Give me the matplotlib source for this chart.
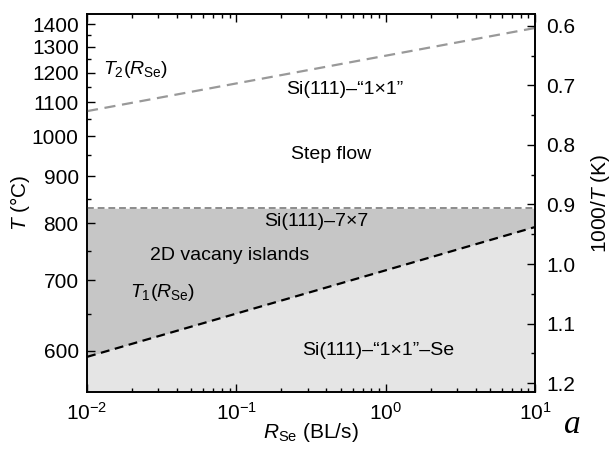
import matplotlib
matplotlib.use("Agg")
import matplotlib.pyplot as plt
import numpy as np
from matplotlib.ticker import FixedLocator, FixedFormatter, LogLocator, NullFormatter

plt.rcParams["font.family"] = ["Liberation Sans", "DejaVu Sans"]
plt.rcParams["mathtext.fontset"] = "custom"
plt.rcParams["mathtext.rm"] = "Liberation Sans"
plt.rcParams["mathtext.it"] = "Liberation Sans:italic"
plt.rcParams["mathtext.default"] = "regular"

# ---- data -----------------------------------------------------------------
rate = [1e-2, 1e1]                 # R_Se, BL/s (x-range of the boundaries)
t1_c = [592.0, 793.0]              # T1(R_Se) boundary, °C
t2_c = [1072.0, 1383.0]            # T2(R_Se) boundary, °C
t_7x7_c = 830.0                    # 7x7 <-> "1x1" transition, °C
t_lim_c = (1450.0, 550.0)          # plotted temperature range, °C

t_major_c = [600, 700, 800, 900, 1000, 1100, 1200, 1300, 1400]
t_minor_c = [650, 750, 850, 950, 1050, 1150, 1250, 1350]
inv_major = [0.6, 0.7, 0.8, 0.9, 1.0, 1.1, 1.2]
inv_minor = [0.65, 0.75, 0.85, 0.95, 1.05, 1.15]


def inv(t_c):
    """°C -> 1000/T(K)"""
    return 1000.0 / (np.asarray(t_c, dtype=float) + 273.15)


fig = plt.figure(figsize=(6.11, 4.53), dpi=100)
ax = fig.add_axes([87 / 611, 1 - 392 / 453, 448 / 611, 378 / 453])

x = np.array(rate)
y1 = inv(t1_c)
y2 = inv(t2_c)
y7 = inv([t_7x7_c, t_7x7_c])
ytop, ybot = inv(t_lim_c)

ax.fill_between(x, y7, y1, color="#c6c6c6", lw=0, zorder=1)
ax.fill_between(x, y1, ybot, color="#e5e5e5", lw=0, zorder=1)
ax.plot(x, y1, color="black", ls=(0, (4, 2.5)), lw=1.6, zorder=3)
ax.plot(x, y7, color="#8c8c8c", ls=(0, (3.5, 2)), lw=1.4, zorder=3)
ax.plot(x, y2, color="#999999", ls=(0, (5, 3)), lw=1.6, zorder=3)

ax.set_xscale("log")
ax.set_xlim(rate[0], rate[1])
ax.set_ylim(ybot, ytop)   # inverted: high T on top

ax.xaxis.set_major_locator(LogLocator(base=10, numticks=10))
ax.xaxis.set_minor_locator(LogLocator(base=10, subs=np.arange(2, 10), numticks=20))
ax.xaxis.set_minor_formatter(NullFormatter())

ax.yaxis.set_major_locator(FixedLocator(inv(t_major_c)))
ax.yaxis.set_major_formatter(FixedFormatter([str(t) for t in t_major_c]))
ax.yaxis.set_minor_locator(FixedLocator(inv(t_minor_c)))

ax.tick_params(which="both", direction="in", top=True, labelsize=15, width=1.0)
ax.tick_params(axis="y", which="both", right=False)
ax.tick_params(which="major", length=6)
ax.tick_params(which="minor", length=3)
ax.tick_params(axis="x", pad=7)
ax.tick_params(axis="y", pad=6)

ax2 = ax.twinx()
ax2.set_ylim(ybot, ytop)
ax2.yaxis.set_major_locator(FixedLocator(inv_major))
ax2.yaxis.set_major_formatter(FixedFormatter([f"{v:.1f}" for v in inv_major]))
ax2.yaxis.set_minor_locator(FixedLocator(inv_minor))
ax2.tick_params(which="both", direction="in", labelsize=15, width=1.0, pad=8)
ax2.tick_params(which="major", length=6)
ax2.tick_params(which="minor", length=3)

for a in (ax, ax2):
    for s in a.spines.values():
        s.set_linewidth(1.2)

ax.set_xlabel(r"$\mathit{R}_{\rm Se}$ (BL/s)", fontsize=15, labelpad=-2)
ax.set_ylabel(r"$\mathit{T}$ (°C)", fontsize=15, labelpad=0)
ax2.set_ylabel(r"1000/$\mathit{T}$ (K)", fontsize=15, labelpad=10)

txt = dict(transform=ax.transAxes, fontsize=14, va="center", zorder=4)
ax.text(0.036, 0.852, r"$\mathit{T}_2(\mathit{R}_{\rm Se})$", ha="left", **txt)
ax.text(0.576, 0.799, "Si(111)–“1×1”", ha="center", **txt)
ax.text(0.545, 0.627, "Step flow", ha="center", **txt)
ax.text(0.511, 0.450, "Si(111)–7×7", ha="center", **txt)
ax.text(0.319, 0.362, "2D vacany islands", ha="center", **txt)
ax.text(0.096, 0.262, r"$\mathit{T}_1(\mathit{R}_{\rm Se})$", ha="left", **txt)
ax.text(0.650, 0.111, "Si(111)–“1×1”–Se", ha="center", **txt)

fig.text(572 / 611, 1 - 425 / 453, "a", family="Liberation Serif", style="italic",
         fontsize=24, ha="center", va="center")

fig.savefig("out.png", dpi=100)
